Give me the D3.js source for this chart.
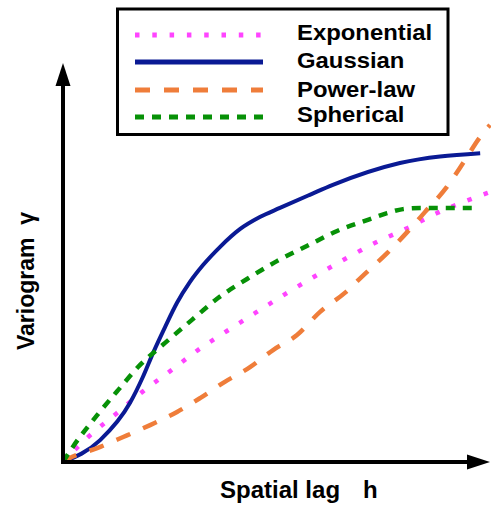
<!DOCTYPE html>
<html>
<head>
<meta charset="utf-8">
<script src="https://cdn.jsdelivr.net/npm/d3@7"></script>
<style>
  body { margin: 0; background: #fff; }
  text { font-family: "Liberation Sans", Arial, sans-serif; font-weight: bold; fill: #000; }
</style>
</head>
<body>
<script>
// series names (legend order)
let seriesNames = ['Exponential', 'Gaussian', 'Power-law', 'Spherical']

// values, h = spatial lag, g = variogram
let expH = [0, 0.59, 1.26, 1.85, 2.51, 3.16, 3.84, 4.54, 5.25, 5.95, 6.65, 7.31, 8.06, 8.76, 9.95]
let expG = [0, 0.63, 1.23, 1.76, 2.29, 2.82, 3.30, 3.78, 4.26, 4.71, 5.14, 5.52, 5.89, 6.27, 6.78]

let gauH = [0, 0.87, 1.57, 1.87, 2.11, 2.39, 2.67, 2.97, 3.28, 3.68, 4.15, 4.61, 5.08, 5.78, 6.32, 7.89, 9.77]
let gauG = [0, 0.55, 1.49, 2.14, 2.75, 3.40, 4.01, 4.53, 4.96, 5.42, 5.87, 6.17, 6.40, 6.73, 6.98, 7.53, 7.78]

let powH = [0, 0.16, 0.80, 1.41, 2.04, 2.67, 3.21, 3.79, 4.38, 4.92, 5.48, 6.02, 6.60, 7.07, 7.59, 8.06, 8.48, 8.99, 9.37, 9.77, 10.0]
let powG = [0, 0.10, 0.35, 0.63, 0.93, 1.26, 1.61, 2.02, 2.39, 2.82, 3.20, 3.78, 4.26, 4.74, 5.26, 5.79, 6.30, 6.93, 7.53, 8.19, 8.49]

let sphH = [0, 0.23, 0.80, 1.29, 1.80, 2.39, 3.02, 3.63, 4.31, 5.01, 5.71, 6.42, 7.19, 7.59, 7.96, 8.36, 9.65]
let sphG = [0, 0.38, 1.18, 1.81, 2.44, 3.00, 3.58, 4.13, 4.61, 5.06, 5.44, 5.82, 6.12, 6.27, 6.37, 6.40, 6.40]

let W = 491, H = 506
let svg = d3.select('body').append('svg').attr('width', W).attr('height', H)

let x = d3.scaleLinear().domain([0, 10]).range([63, 490])
let y = d3.scaleLinear().domain([0, 10]).range([462, 65])

let styles = [
    { color: '#ff44ff', dash: '4.5 12.8', width: 4.5 },
    { color: '#0a1a94', dash: null, width: 4 },
    { color: '#ef7d3a', dash: '15 14', width: 4.5 },
    { color: '#079107', dash: '9 8', width: 4.5 }
]

let zip = (hs, gs) => hs.map((h, i) => [h, gs[i]])
let series = [zip(expH, expG), zip(gauH, gauG), zip(powH, powG), zip(sphH, sphG)]

let line = d3.line().x(d => x(d[0])).y(d => y(d[1])).curve(d3.curveMonotoneX)

// curves
svg.append('g').selectAll('path').data(series).enter().append('path')
    .attr('d', line)
    .attr('fill', 'none')
    .attr('stroke', (d, i) => styles[i].color)
    .attr('stroke-width', (d, i) => styles[i].width)
    .attr('stroke-dasharray', (d, i) => styles[i].dash)

// axes with arrow heads
let axes = svg.append('g')
axes.append('line').attr('x1', x(0)).attr('y1', y(0)).attr('x2', 468).attr('y2', y(0))
    .attr('stroke', '#000').attr('stroke-width', 4)
axes.append('line').attr('x1', x(0)).attr('y1', y(0) + 2).attr('x2', x(0)).attr('y2', 84)
    .attr('stroke', '#000').attr('stroke-width', 4)
axes.append('path').attr('d', `M490,${y(0)} L467,${y(0) - 7.5} L467,${y(0) + 7.5} Z`).attr('fill', '#000')
axes.append('path').attr('d', `M${x(0)},63 L${x(0) - 7.5},86 L${x(0) + 7.5},86 Z`).attr('fill', '#000')

// axis titles
svg.append('text').attr('x', 220).attr('y', 498).attr('font-size', 24).text('Spatial lag')
svg.append('text').attr('x', 363).attr('y', 498).attr('font-size', 24).text('h')
svg.append('text').attr('transform', 'translate(34,350) rotate(-90)').attr('font-size', 23)
    .text('Variogram\u00a0\u00a0γ')

// legend
let legend = svg.append('g')
legend.append('rect').attr('x', 117.5).attr('y', 9).attr('width', 330.5).attr('height', 125.5)
    .attr('fill', '#fff').attr('stroke', '#000').attr('stroke-width', 3)
let rowY = [35, 62, 90, 117]
let textY = [40, 68, 97, 122]
let rows = legend.selectAll('g.row').data(seriesNames).enter().append('g').attr('class', 'row')
rows.append('line')
    .attr('x1', 135).attr('x2', 263)
    .attr('y1', (d, i) => rowY[i]).attr('y2', (d, i) => rowY[i])
    .attr('stroke', (d, i) => styles[i].color)
    .attr('stroke-width', 5)
    .attr('stroke-dasharray', (d, i) => styles[i].dash)
rows.append('text')
    .attr('transform', (d, i) => `translate(297,${textY[i]}) scale(1.085,1)`)
    .attr('font-size', 22)
    .text(d => d)
</script>
</body>
</html>
